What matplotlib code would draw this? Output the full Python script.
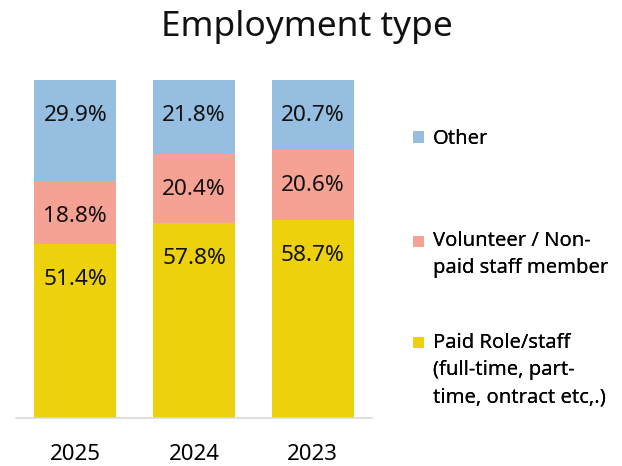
import numpy as np
import matplotlib
matplotlib.use("Agg")
from matplotlib import pyplot as plt
from matplotlib.patches import Rectangle
from matplotlib.legend_handler import HandlerPatch

plt.rcParams['font.family'] = ['Noto Sans', 'DejaVu Sans']

years = ['2025', '2024', '2023']
paid = [51.4, 57.8, 58.7]
volunteer = [18.8, 20.4, 20.6]
other = [29.9, 21.8, 20.7]

series_names = ['Paid Role/staff\n(full-time, part-\ntime, ontract etc,.)',
                'Volunteer / Non-\npaid staff member',
                'Other']
colors = ['#EDD10D', '#F5A193', '#95BEE0']

fig = plt.figure(figsize=(6.22, 4.66), dpi=100)
ax = fig.add_axes([16 / 622, 48 / 466, 356 / 622, 338 / 466])

x = np.arange(len(years))
bottom = np.zeros(len(years))
containers = []
for vals, col in zip([paid, volunteer, other], colors):
    bars = ax.bar(x, vals, width=0.69, bottom=bottom, color=col)
    containers.append(bars)
    for xi, b, v in zip(x, bottom, vals):
        ax.annotate('{:.1f}%'.format(v), (xi, b + v), xytext=(0, -25.5),
                    textcoords='offset points', ha='center', va='center',
                    fontsize=16.3, color='#111111')
    bottom += np.array(vals)

ax.set_xlim(-0.5, 2.5)
ax.set_ylim(0, 100)
ax.set_xticks(x)
ax.set_xticklabels(years, fontsize=16)
ax.tick_params(axis='x', length=0, pad=19)
ax.set_yticks([])
for side in ['top', 'right', 'left']:
    ax.spines[side].set_visible(False)
ax.spines['bottom'].set_color('#D9D9D9')
ax.spines['bottom'].set_linewidth(1.2)


# legend square sits next to the first line of a wrapped label
def top_square(nlines):
    def make(legend, orig_handle, xdescent, ydescent, width, height, fontsize):
        s = 8.0
        shift = (nlines - 1) / 2 * 20.0
        yc = -ydescent + height / 2 + shift
        return Rectangle((-xdescent, yc - s / 2), s, s)
    return make


legend_y = [370, 254.5, 139]
for cont, name, ly in zip(containers, series_names, legend_y):
    nl = name.count('\n') + 1
    leg = fig.legend([cont.patches[0]], [name], loc='center left',
                     bbox_to_anchor=(405 / 622, 1 - ly / 466),
                     frameon=False, fontsize=14.5, handlelength=0.55,
                     handletextpad=0.45, borderaxespad=0,
                     handler_map={cont.patches[0]: HandlerPatch(patch_func=top_square(nl))})
    for t in leg.get_texts():
        t.set_linespacing(1.5)
    fig.add_artist(leg)

fig.text(307 / 622, 1 - 27 / 466, 'Employment type', ha='center', va='center',
         fontsize=25.4, color='#111111')

fig.savefig('out.png', dpi=100)
